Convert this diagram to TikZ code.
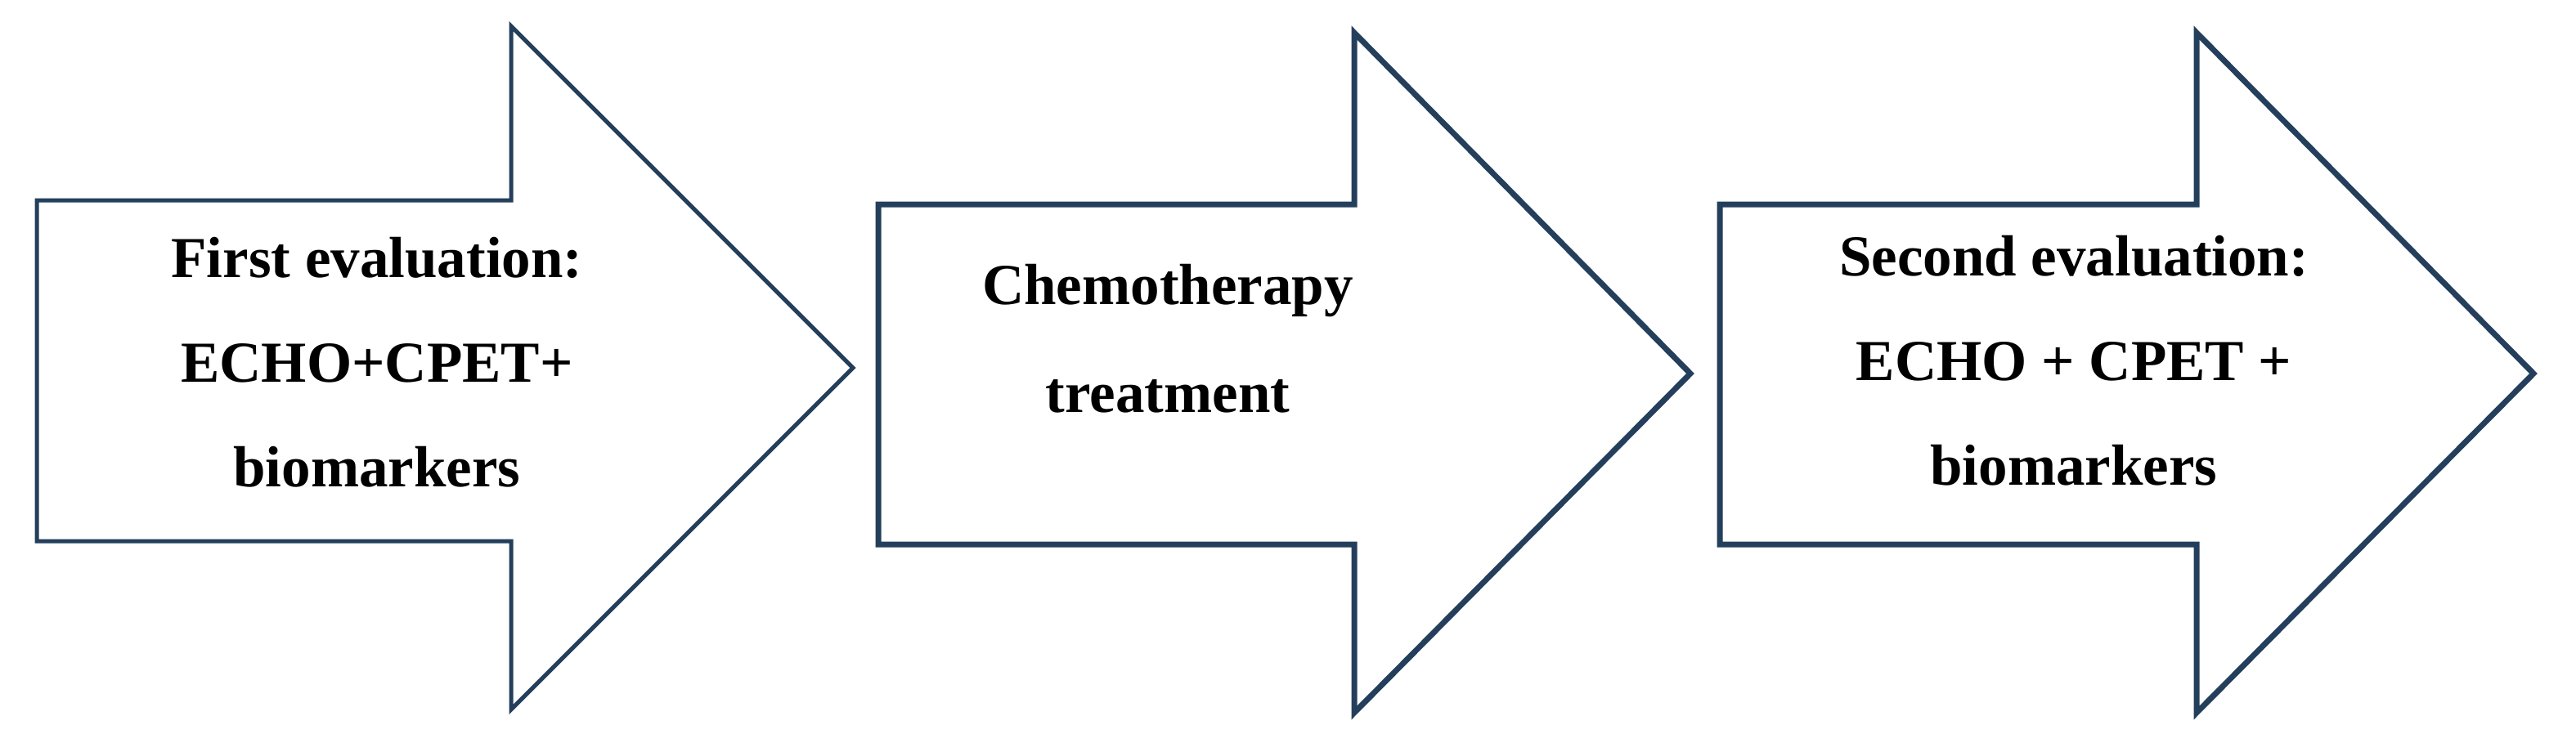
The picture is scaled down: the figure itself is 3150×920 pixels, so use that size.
\documentclass[tikz,border=0pt]{standalone}
\usepackage{fontspec}
\setmainfont{Liberation Serif}
\begin{document}
\begin{tikzpicture}[x=0.5pt,y=-0.5pt,
  arr/.style={draw=arrblue,line width=#1,line join=miter,fill=white},
  lbl/.style={align=center,font=\fontsize{35.5}{64}\selectfont\bfseries,anchor=base,inner sep=0pt}]
\definecolor{arrblue}{HTML}{243F5C}
\useasboundingbox (0,0) rectangle (3150,920);
\draw[arr=2.5pt] (45,245) -- (625,245) -- (625,32) -- (1043,450) -- (625,868) -- (625,662) -- (45,662) -- cycle;
\draw[arr=3.5pt] (1074,250) -- (1656,250) -- (1656,40) -- (2067,457) -- (1656,872) -- (1656,666) -- (1074,666) -- cycle;
\draw[arr=3.5pt] (2103,250) -- (2686,250) -- (2686,40) -- (3098,457) -- (2686,872) -- (2686,666) -- (2103,666) -- cycle;
\node[lbl] (t1) at (461,595) {First evaluation:\\ECHO+CPET+\\biomarkers};
\node[lbl] (t2) at (1428,504) {Chemotherapy\\[2pt]treatment};
\node[lbl] (t3) at (2536,593) {Second evaluation:\\ECHO + CPET +\\biomarkers};
\end{tikzpicture}
\end{document}
